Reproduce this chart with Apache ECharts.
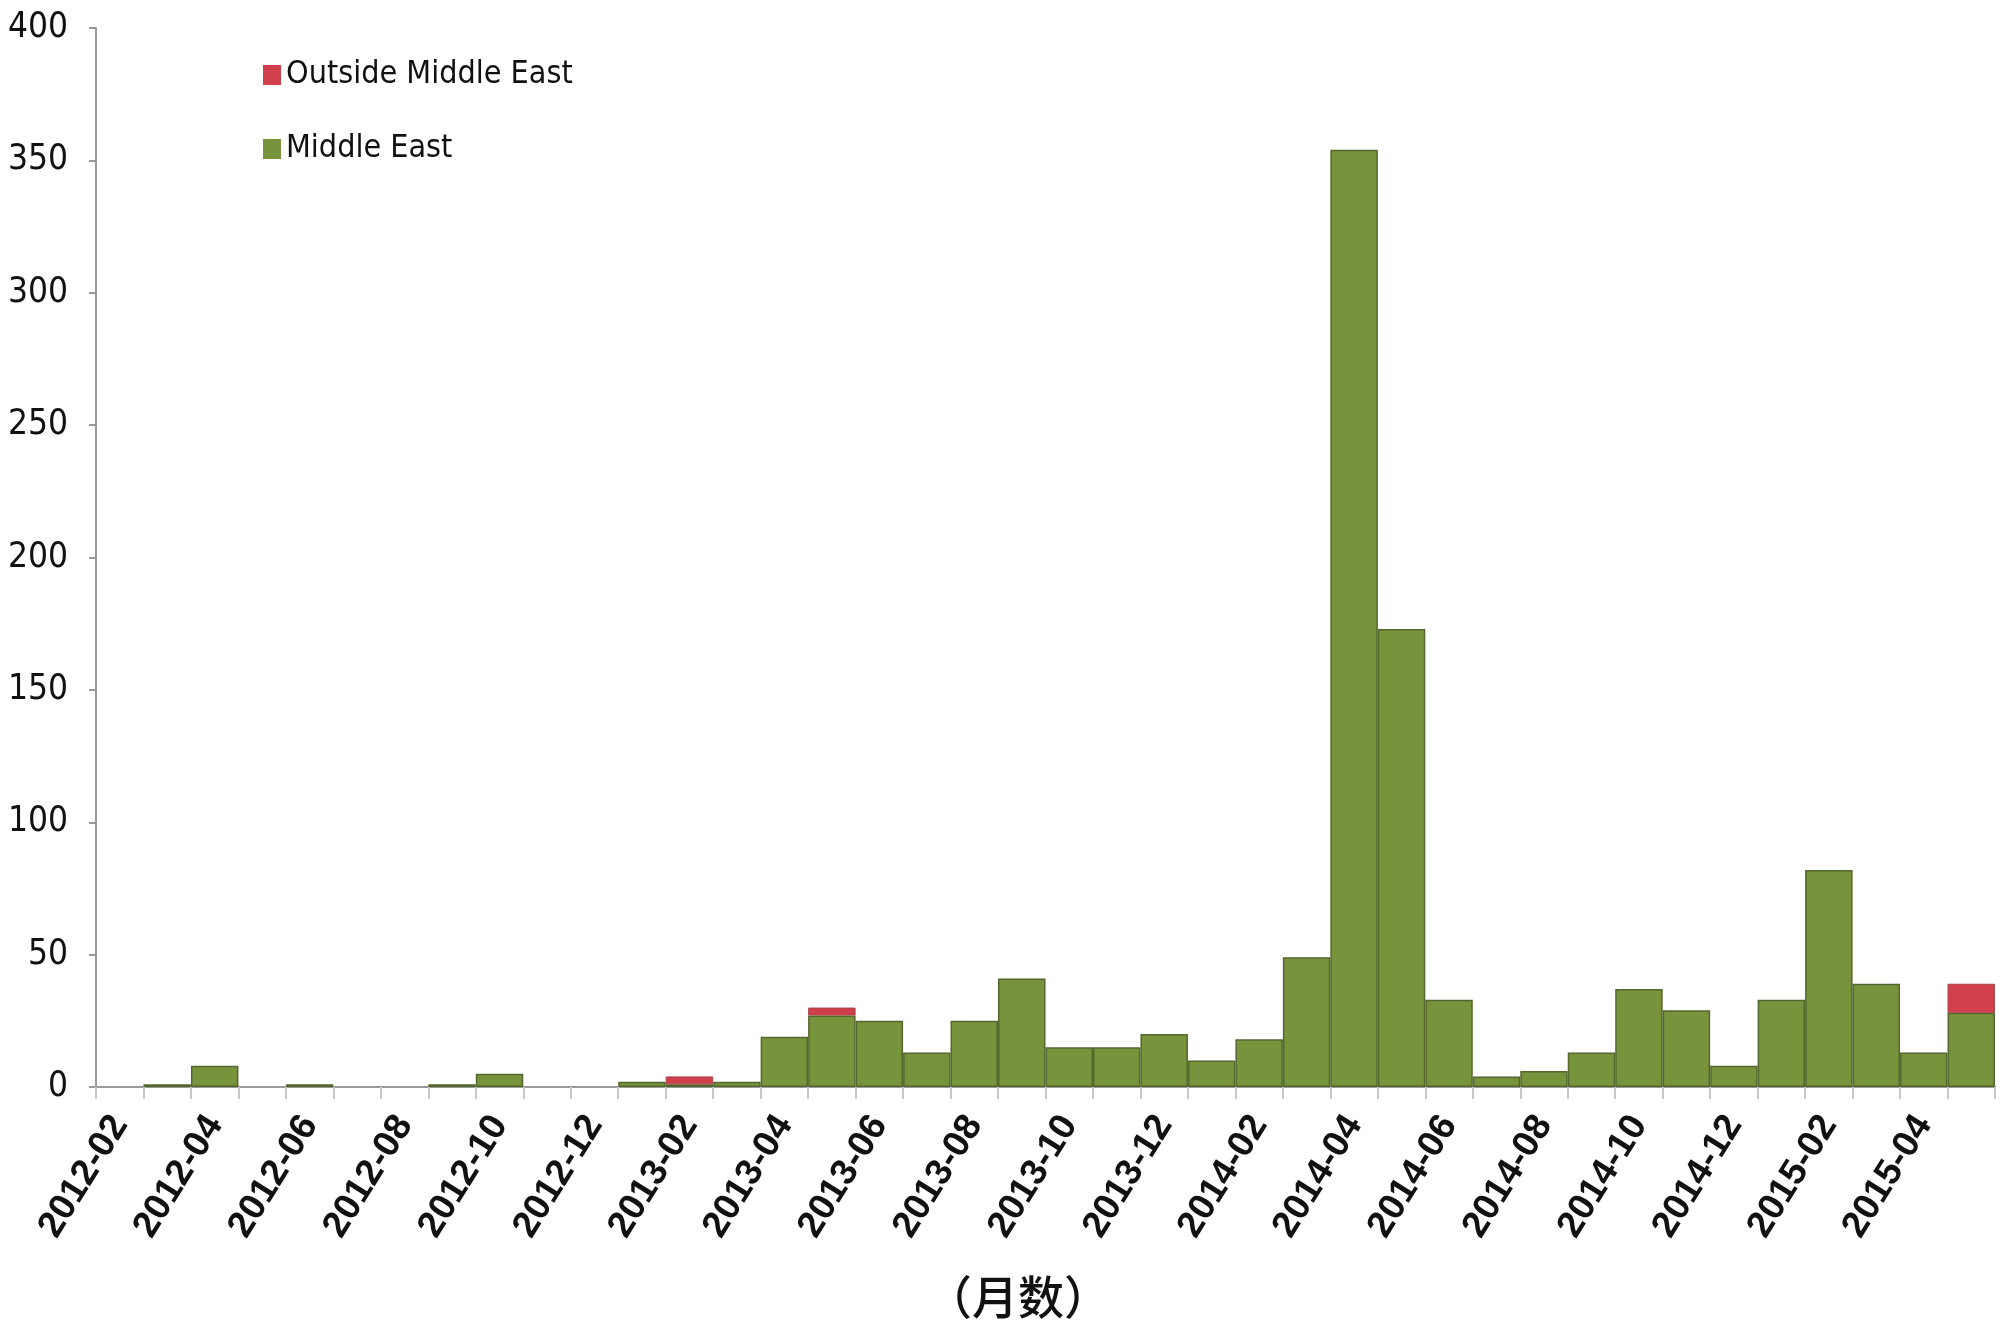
<!DOCTYPE html>
<html>
<head>
<meta charset="utf-8">
<script src="https://cdn.jsdelivr.net/npm/echarts@6/dist/echarts.min.js"></script>
<style>
html,body{margin:0;padding:0;background:#fff;}
#chart{width:2013px;height:1322px;}
</style>
</head>
<body>
<div id="chart"></div>
<script>
const months = ['2012-02','2012-03','2012-04','2012-05','2012-06','2012-07','2012-08','2012-09','2012-10','2012-11','2012-12',
  '2013-01','2013-02','2013-03','2013-04','2013-05','2013-06','2013-07','2013-08','2013-09','2013-10','2013-11','2013-12',
  '2014-01','2014-02','2014-03','2014-04','2014-05','2014-06','2014-07','2014-08','2014-09','2014-10','2014-11','2014-12',
  '2015-01','2015-02','2015-03','2015-04','2015-05'];
const middleEast = [0,1,8,0,1,0,0,1,5,0, 0,2,1,2,19,27,25,13,25,41, 15,15,20,10,18,49,354,173,33,4, 6,13,37,29,8,33,82,39,13,28];
const outsideME  = [0,0,0,0,0,0,0,0,0,0, 0,0,3,0,0,3,0,0,0,0, 0,0,0,0,0,0,0,0,0,0, 0,0,0,0,0,0,0,0,0,11];
const yTicks = [0,50,100,150,200,250,300,350,400];
const xAxisTitle = '（月数）';
const seriesNames = ['Outside Middle East','Middle East'];

const narrow = "'Liberation Sans Narrow','DejaVu Sans Condensed','Liberation Sans',Arial,sans-serif";
const chart = echarts.init(document.getElementById('chart'));
chart.setOption({
  animation:false,
  backgroundColor:'#fff',
  grid:{left:96,right:18,top:28,bottom:235,containLabel:false},
  legend:{
    orient:'vertical', left:258, top:50,
    data:[seriesNames[0],seriesNames[1]],
    itemWidth:18, itemHeight:20, itemGap:34, itemStyle:{borderWidth:0},
    icon:'rect',
    textStyle:{fontFamily:narrow,fontSize:32,fontWeight:'normal',color:'#111',lineHeight:40}
  },
  xAxis:{
    type:'category', data:months, boundaryGap:true,
    axisLine:{lineStyle:{color:'#9a9a9a',width:2}},
    axisTick:{show:true,interval:0,length:12,lineStyle:{color:'#c8c8c8',width:2}},
    axisLabel:{interval:1,rotate:58,margin:32,fontFamily:"'Liberation Sans',Arial,sans-serif",fontSize:37,fontWeight:'bold',color:'#111'},
    splitLine:{show:false}
  },
  yAxis:{
    type:'value', min:yTicks[0], max:yTicks[yTicks.length-1], interval:yTicks[1]-yTicks[0],
    axisLine:{show:true,lineStyle:{color:'#9a9a9a',width:2}},
    axisTick:{show:true,length:7,lineStyle:{color:'#9a9a9a',width:2}},
    axisLabel:{margin:28,fontFamily:narrow,fontSize:35,color:'#111'},
    splitLine:{show:false}
  },
  graphic:[{type:'text',x:1018,y:1297,style:{text:xAxisTitle,textAlign:'center',textVerticalAlign:'middle',font:"500 46px 'Noto Sans CJK SC',sans-serif",fill:'#111'}}],
  series:[
    {name:seriesNames[1],type:'bar',stack:'total',data:middleEast.map(v=>v||null),barCategoryGap:'0%',
     itemStyle:{color:'#77933C',borderColor:'#55672E',borderWidth:1.5}},
    {name:seriesNames[0],type:'bar',stack:'total',data:outsideME.map(v=>v||null),barCategoryGap:'0%',
     itemStyle:{color:'#D23F4C',borderColor:'#A8464A',borderWidth:1}}
  ]
});
</script>
</body>
</html>
